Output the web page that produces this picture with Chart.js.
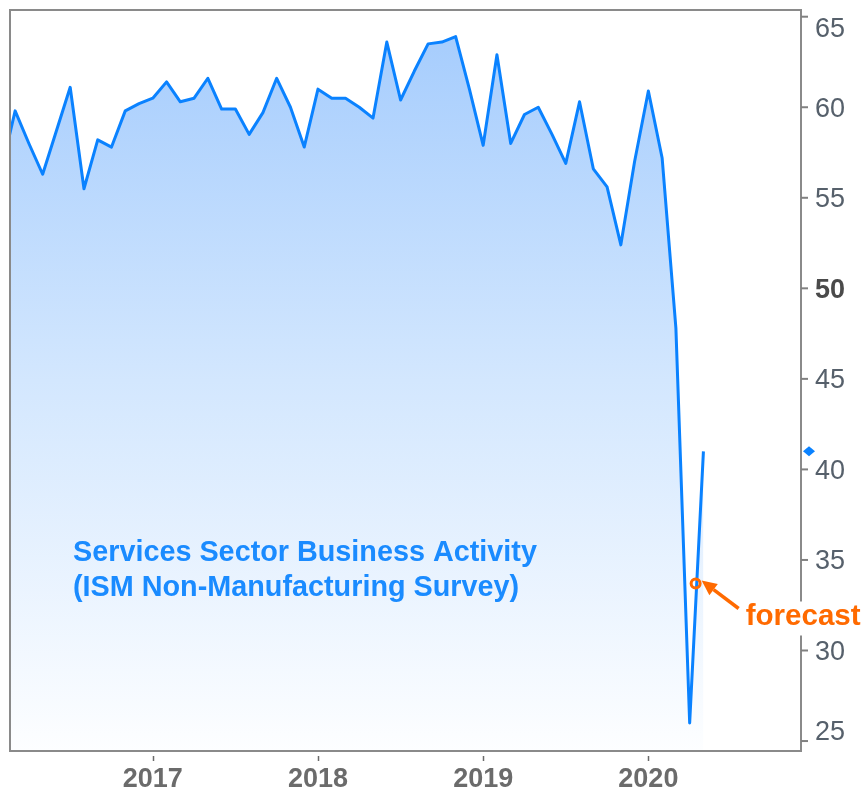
<!DOCTYPE html>
<html>
<head>
<meta charset="utf-8">
<script src="https://cdn.jsdelivr.net/npm/chart.js@4/dist/chart.umd.min.js"></script>
<style>
html,body{margin:0;padding:0;background:#ffffff;}
#wrap{width:864px;height:795px;position:relative;}
</style>
</head>
<body>
<div id="wrap"><canvas id="c" width="864" height="795"></canvas></div>
<script>
// ---- data ----
const months = [
  '2016-02','2016-03','2016-04','2016-05','2016-06','2016-07','2016-08','2016-09','2016-10','2016-11','2016-12',
  '2017-01','2017-02','2017-03','2017-04','2017-05','2017-06','2017-07','2017-08','2017-09','2017-10','2017-11','2017-12',
  '2018-01','2018-02','2018-03','2018-04','2018-05','2018-06','2018-07','2018-08','2018-09','2018-10','2018-11','2018-12',
  '2019-01','2019-02','2019-03','2019-04','2019-05','2019-06','2019-07','2019-08','2019-09','2019-10','2019-11','2019-12',
  '2020-01','2020-02','2020-03','2020-04','2020-05'
];
const businessActivity = [
  56.5, 59.8, 58.0, 56.3, 58.7, 61.1, 55.5, 58.2, 57.8, 59.8, 60.2,
  60.5, 61.4, 60.3, 60.5, 61.6, 59.9, 59.9, 58.5, 59.7, 61.6, 60.0, 57.8,
  61.0, 60.5, 60.5, 60.0, 59.4, 63.6, 60.4, 62.0, 63.5, 63.6, 63.9, 61.0,
  57.9, 62.9, 58.0, 59.6, 60.0, 58.5, 56.9, 60.3, 56.6, 55.6, 52.4, 57.0,
  60.9, 57.2, 47.8, 26.0, 41.0
];
const forecastDate = '2020-04-14';
const forecastValue = 33.7;
const forecastLabel = 'forecast';
const seriesTitle = ['Services Sector Business Activity', '(ISM Non-Manufacturing Survey)'];
const yearTicks = [2017, 2018, 2019, 2020];
const valueTicks = [25, 30, 35, 40, 45, 50, 55, 60, 65];

// ---- helpers ----
function monthToYear(s) {
  const [y, m] = s.split('-').map(Number);
  return y + (m - 1) / 12;
}
function dateToYear(s) {
  const [y, m, d] = s.split('-').map(Number);
  const dim = new Date(y, m, 0).getDate();
  return y + (m - 1 + (d - 1) / dim) / 12;
}
const linePoints = months.map((m, i) => ({x: monthToYear(m), y: businessActivity[i]}));
const forecastPoints = [{x: dateToYear(forecastDate), y: forecastValue}];

const LINE_BLUE = '#0a82ff';
const TEXT_BLUE = '#1a8bff';
const ORANGE = '#ff6a00';

function fitFont(ctx, text, weight, family, targetWidth) {
  ctx.font = weight + ' 20px "' + family + '"';
  const w = ctx.measureText(text).width;
  return 20 * targetWidth / w;
}

const decorPlugin = {
  id: 'decor',
  afterDraw(chart) {
    const ctx = chart.ctx;
    const a = chart.chartArea;
    const xs = chart.scales.x, ys = chart.scales.y;
    ctx.save();
    // plot frame
    ctx.strokeStyle = '#8a8a8a';
    ctx.lineWidth = 2;
    ctx.strokeRect(a.left, a.top, a.right - a.left, a.bottom - a.top);
    // x tick marks (detached from frame)
    ctx.strokeStyle = '#6a6a6a';
    ctx.lineWidth = 1.5;
    xs.ticks.forEach(t => {
      const px = Math.round(xs.getPixelForValue(t.value)) + 0.5;
      ctx.beginPath();
      ctx.moveTo(px, a.bottom + 5);
      ctx.lineTo(px, a.bottom + 10);
      ctx.stroke();
    });
    // y tick marks and labels (end labels kept inside the frame)
    ctx.textAlign = 'left';
    ctx.textBaseline = 'middle';
    ys.ticks.forEach(t => {
      const py = ys.getPixelForValue(t.value);
      ctx.strokeStyle = '#808080';
      ctx.lineWidth = 2;
      ctx.beginPath();
      ctx.moveTo(a.right, py);
      ctx.lineTo(a.right + 7, py);
      ctx.stroke();
      const bold = t.value === 50;
      ctx.font = (bold ? 'bold ' : '') + '27px "Liberation Sans"';
      ctx.fillStyle = bold ? '#4a4a4a' : '#56606b';
      const ly = Math.min(Math.max(py + 2, a.top + 20), a.bottom - 18);
      ctx.fillText(String(t.value), a.right + 14, ly);
    });
    // series title
    ctx.fillStyle = TEXT_BLUE;
    const fs = fitFont(ctx, seriesTitle[0], 'bold', 'Liberation Sans', 464);
    ctx.font = 'bold ' + fs.toFixed(2) + 'px "Liberation Sans"';
    ctx.textBaseline = 'alphabetic';
    ctx.textAlign = 'left';
    ctx.fillText(seriesTitle[0], a.left + 63, 561);
    ctx.fillText(seriesTitle[1], a.left + 63, 596);
    // last-value diamond on the right axis
    const last = businessActivity[businessActivity.length - 1];
    const dy = ys.getPixelForValue(last);
    const dx = a.right + 8;
    ctx.fillStyle = LINE_BLUE;
    ctx.beginPath();
    ctx.moveTo(dx - 6, dy);
    ctx.lineTo(dx, dy - 5);
    ctx.lineTo(dx + 6, dy);
    ctx.lineTo(dx, dy + 5);
    ctx.closePath();
    ctx.fill();
    // forecast arrow + label
    const fm = chart.getDatasetMeta(1).data[0];
    const px = fm.x, py = fm.y;
    const tip = {x: px + 6, y: py - 3};
    const tail = {x: px + 43, y: py + 25};
    const ang = Math.atan2(tip.y - tail.y, tip.x - tail.x);
    const hl = 15, hw = 7;
    const bx = tip.x - hl * Math.cos(ang), by = tip.y - hl * Math.sin(ang);
    ctx.strokeStyle = ORANGE;
    ctx.fillStyle = ORANGE;
    ctx.lineWidth = 3.5;
    ctx.beginPath();
    ctx.moveTo(tail.x, tail.y);
    ctx.lineTo(bx, by);
    ctx.stroke();
    ctx.beginPath();
    ctx.moveTo(tip.x, tip.y);
    ctx.lineTo(bx + hw * Math.sin(ang), by - hw * Math.cos(ang));
    ctx.lineTo(bx - hw * Math.sin(ang), by + hw * Math.cos(ang));
    ctx.closePath();
    ctx.fill();
    const ffs = fitFont(ctx, forecastLabel, 'bold', 'Liberation Sans', 115);
    ctx.font = 'bold ' + ffs.toFixed(2) + 'px "Liberation Sans"';
    const tx = px + 50, ty = py + 42;
    ctx.fillStyle = '#ffffff';
    ctx.fillRect(tx - 3, ty - 24, 121, 34);
    ctx.fillStyle = ORANGE;
    ctx.fillText(forecastLabel, tx, ty);
    ctx.restore();
  }
};

const ctx = document.getElementById('c').getContext('2d');
new Chart(ctx, {
  type: 'line',
  data: {
    datasets: [
      {
        order: 1,
        data: linePoints,
        borderColor: LINE_BLUE,
        borderWidth: 3,
        borderJoinStyle: 'round',
        tension: 0,
        pointRadius: 0,
        fill: 'start',
        backgroundColor: (c) => {
          const a = c.chart.chartArea;
          if (!a) return 'rgba(170,210,255,0.6)';
          const g = c.chart.ctx.createLinearGradient(0, a.top, 0, a.bottom);
          g.addColorStop(0, '#a3cbfd');
          g.addColorStop(0.5, '#d3e7fe');
          g.addColorStop(1, '#fdfeff');
          return g;
        }
      },
      {
        order: 0,
        data: forecastPoints,
        showLine: false,
        pointStyle: 'circle',
        pointRadius: 4.5,
        pointBorderWidth: 3,
        pointBorderColor: ORANGE,
        pointBackgroundColor: 'rgba(255,255,255,0)',
        fill: false
      }
    ]
  },
  options: {
    responsive: false,
    animation: false,
    events: [],
    layout: {padding: {left: 10, top: 10, right: 0, bottom: 0}},
    plugins: {legend: {display: false}, tooltip: {enabled: false}},
    scales: {
      x: {
        type: 'linear',
        min: 2016.1356,
        max: 2020.924,
        afterBuildTicks: (s) => { s.ticks = yearTicks.map(v => ({value: v})); },
        afterFit: (s) => { s.height = 44; s.paddingLeft = 0; s.paddingRight = 0; },
        grid: {display: false, drawTicks: false},
        border: {display: false},
        ticks: {
          color: '#6b6b6b',
          font: {family: 'Liberation Sans', size: 27, weight: 'bold'},
          padding: 12,
          maxRotation: 0,
          autoSkip: false,
          callback: (v) => String(v)
        }
      },
      y: {
        position: 'right',
        min: 24.45,
        max: 65.37,
        afterBuildTicks: (s) => { s.ticks = valueTicks.map(v => ({value: v})); },
        afterFit: (s) => { s.width = 63; s.paddingTop = 0; s.paddingBottom = 0; },
        grid: {display: false, drawTicks: false},
        border: {display: false},
        ticks: {display: false}
      }
    }
  },
  plugins: [decorPlugin]
});
</script>
</body>
</html>
